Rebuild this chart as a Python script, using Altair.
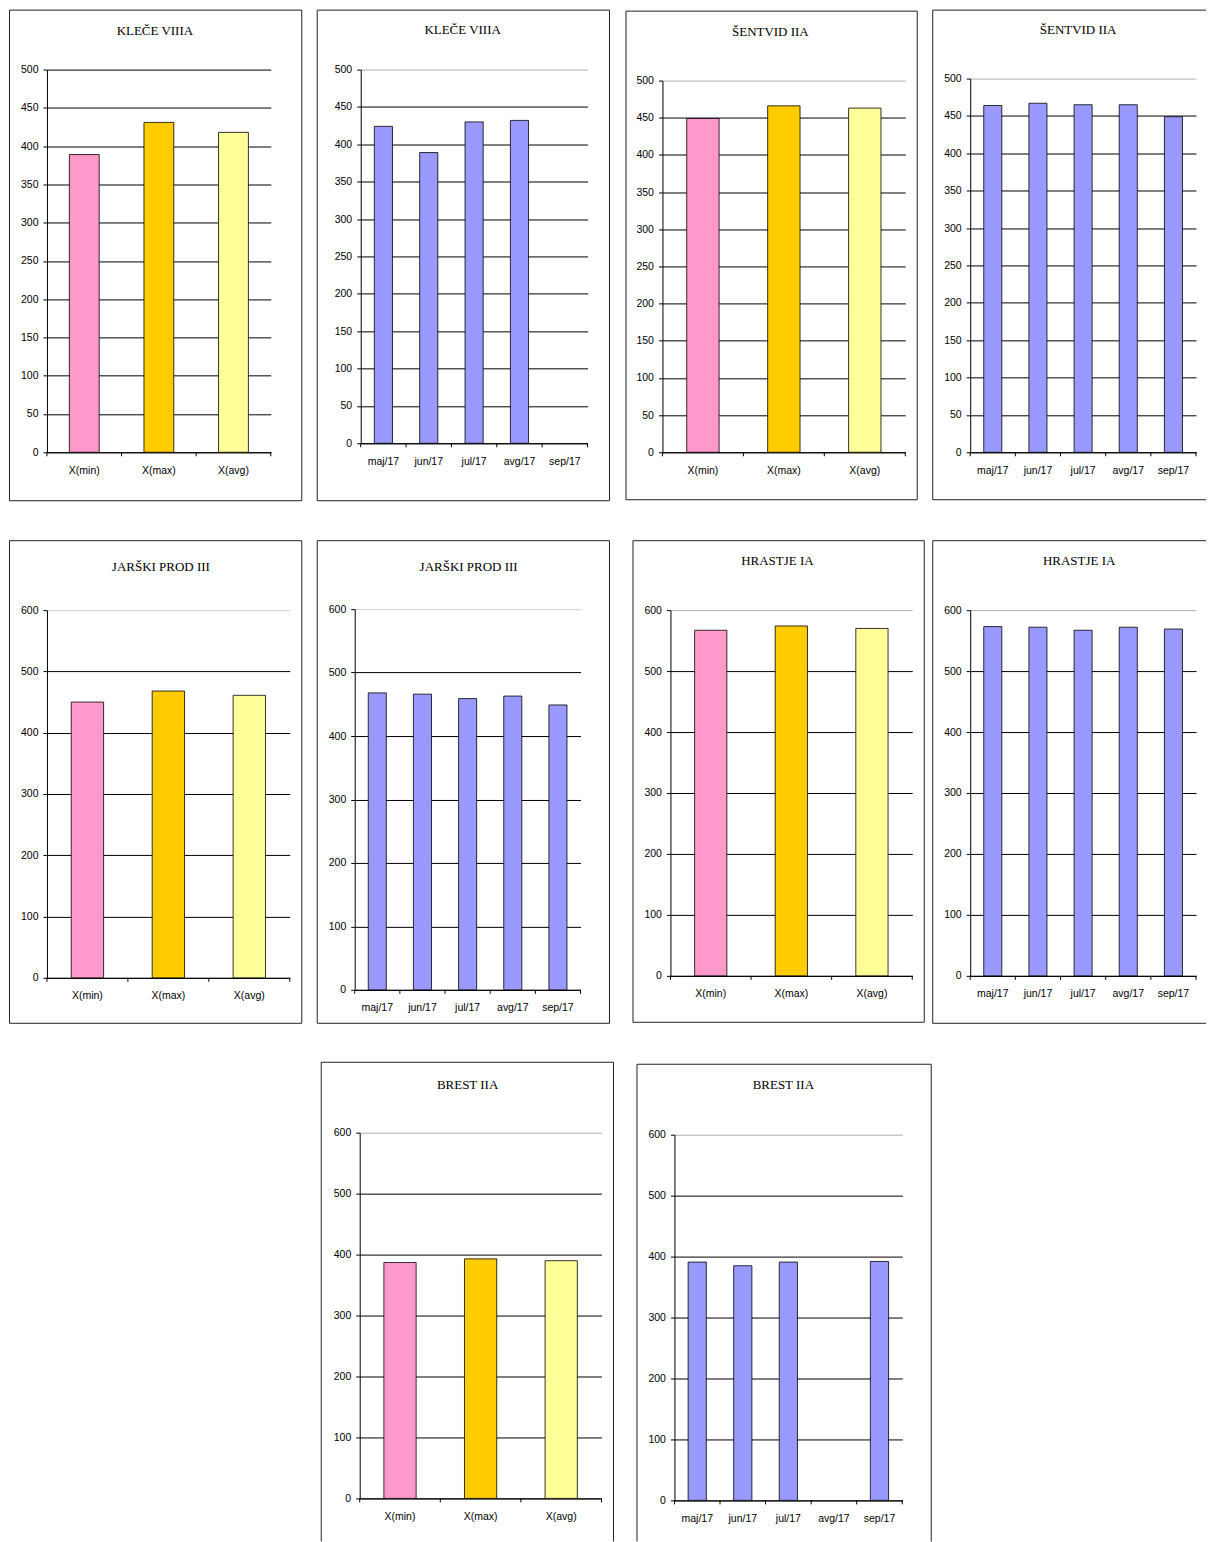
import altair as alt
import pandas as pd

# ---------------- data ----------------
STAT_CATS = ["X(min)", "X(max)", "X(avg)"]
MONTH_CATS = ["maj/17", "jun/17", "jul/17", "avg/17", "sep/17"]

klece_stats = [389, 431, 418]
klece_months = [424, 389, 430, 432, None]
sentvid_stats = [449, 466, 463]
sentvid_months = [464, 467, 465, 465, 449]
jarski_stats = [450, 468, 461]
jarski_months = [468, 466, 459, 463, 449]
hrastje_stats = [567, 574, 570]
hrastje_months = [573, 572, 567, 572, 569]
brest_stats = [387, 393, 390]
brest_months = [391, 385, 391, None, 392]

# ---------------- styles ----------------
STAT_COLORS = ["#FF99CC", "#FFCC00", "#FFFF99"]
MONTH_COLORS = ["#9999FF"] * 5
LABEL_FONT = "Liberation Sans Narrow, Arial Narrow, Liberation Sans, sans-serif"
TITLE_FONT = "Liberation Serif, Times New Roman, serif"

# layout (page px): plot (left, top, right, bottom), frame (left, top, right, bottom, sides drawn),
# cell (left, top, right, bottom), title centre
PANELS = [
    dict(title="KLEČE VIIIA", cats=STAT_CATS, vals=klece_stats, colors=STAT_COLORS, ymax=500, ystep=50, top="black",
         plot=(47, 69, 271, 452), frame=(9.5, 9.5, 302, 500.5, "tlrb"), cell=(8, 9, 313, 520), tpos=(155, 30)),
    dict(title="KLEČE VIIIA", cats=MONTH_CATS, vals=klece_months, colors=MONTH_COLORS, ymax=500, ystep=50, top="#b0b0b0",
         plot=(361, 69, 588, 443), frame=(317.5, 9.5, 610, 500.5, "tlrb"), cell=(313, 9, 621, 520), tpos=(463, 29)),
    dict(title="ŠENTVID IIA", cats=STAT_CATS, vals=sentvid_stats, colors=STAT_COLORS, ymax=500, ystep=50, top="#b0b0b0",
         plot=(663, 80, 906, 452), frame=(626.5, 10.5, 918, 499.5, "tlrb"), cell=(621, 9, 929, 520), tpos=(771, 31)),
    dict(title="ŠENTVID IIA", cats=MONTH_CATS, vals=sentvid_months, colors=MONTH_COLORS, ymax=500, ystep=50, top="#b0b0b0",
         plot=(971, 78, 1197, 452), frame=(933.5, 9.5, 1207, 499.5, "tlb"), cell=(929, 9, 1207, 520), tpos=(1079, 29)),

    dict(title="JARŠKI PROD III", cats=STAT_CATS, vals=jarski_stats, colors=STAT_COLORS, ymax=600, ystep=100, top="#d0d0d0",
         plot=(47, 610, 290, 978), frame=(9.5, 540.5, 302, 1023.5, "tlrb"), cell=(8, 521, 313, 1042), tpos=(161, 567)),
    dict(title="JARŠKI PROD III", cats=MONTH_CATS, vals=jarski_months, colors=MONTH_COLORS, ymax=600, ystep=100, top="#d0d0d0",
         plot=(355, 609, 581, 990), frame=(317.5, 540.5, 610, 1023.5, "tlrb"), cell=(313, 521, 621, 1042), tpos=(469, 567)),
    dict(title="HRASTJE IA", cats=STAT_CATS, vals=hrastje_stats, colors=STAT_COLORS, ymax=600, ystep=100, top="#b0b0b0",
         plot=(671, 610, 913, 976), frame=(633.5, 540.5, 925, 1022.5, "tlrb"), cell=(621, 521, 929, 1042), tpos=(778, 561)),
    dict(title="HRASTJE IA", cats=MONTH_CATS, vals=hrastje_months, colors=MONTH_COLORS, ymax=600, ystep=100, top="#b0b0b0",
         plot=(971, 610, 1197, 976), frame=(933.5, 540.5, 1207, 1023.5, "tlb"), cell=(929, 521, 1207, 1042), tpos=(1080, 561)),

    dict(title="BREST IIA", cats=STAT_CATS, vals=brest_stats, colors=STAT_COLORS, ymax=600, ystep=100, top="#b0b0b0",
         plot=(360, 1133, 602, 1499), frame=(321.5, 1062.5, 614, 1542, "tlr"), cell=(313, 1043, 625, 1542), tpos=(468, 1085)),
    dict(title="BREST IIA", cats=MONTH_CATS, vals=brest_months, colors=MONTH_COLORS, ymax=600, ystep=100, top="#b0b0b0",
         plot=(675, 1135, 903, 1501), frame=(637.5, 1064.5, 932, 1542, "tlr"), cell=(625, 1043, 940, 1542), tpos=(784, 1085)),
]

one = pd.DataFrame({"k": [0]})


def spacer(plot_xy, cell):
    """Invisible rectangle that fixes a panel's cell in the concat layout."""
    px, py = plot_xy
    cx0, cy0, cx1, cy1 = cell
    return alt.Chart(one).mark_rect(opacity=0).encode(
        x=alt.value(cx0 - px), x2=alt.value(cx1 - px), y=alt.value(cy0 - py), y2=alt.value(cy1 - py))


def anchor():
    """1px invisible element: puts the following panel's top edge (not its plot) on the row line."""
    return alt.layer(alt.Chart(one).mark_rect(opacity=0).encode(
        x=alt.value(0), x2=alt.value(1), y=alt.value(0), y2=alt.value(1))).properties(width=1, height=1)


def panel(p):
    px, py, pr, pb = p["plot"]
    W, H = pr - px, pb - py
    fx0, fy0, fx1, fy1, sides = p["frame"]
    tx, ty = p["tpos"]
    cats, ymax = p["cats"], p["ymax"]

    colour_of = dict(zip(cats, p["colors"]))
    data = pd.DataFrame({"cat": cats, "val": p["vals"]}).dropna()
    data["fillcol"] = data["cat"].map(colour_of)
    allcats = pd.DataFrame({"cat": cats})

    xscale = alt.Scale(domain=cats, paddingInner=0, paddingOuter=0)
    xaxis = alt.Axis(title=None, ticks=False, tickSize=0, labelAngle=0, labelPadding=13,
                     domainColor="black", grid=False)
    yaxis = alt.Axis(title=None, values=list(range(0, ymax + 1, p["ystep"])), grid=True,
                     gridColor={"condition": {"test": f"datum.value == {ymax}", "value": p["top"]},
                                "value": "black"},
                     gridWidth=1, tickSize=4, labelPadding=5, domainColor="black", tickColor="black")

    layers = [spacer((px, py), p["cell"])]
    # frame sides
    X0, X1, Y0, Y1 = fx0 - px, fx1 - px, fy0 - py, fy1 - py
    seg = {
        "t": dict(x=alt.value(X0), x2=alt.value(X1), y=alt.value(Y0)),
        "b": dict(x=alt.value(X0), x2=alt.value(X1), y=alt.value(Y1)),
        "l": dict(x=alt.value(X0), y=alt.value(Y0), y2=alt.value(Y1)),
        "r": dict(x=alt.value(X1), y=alt.value(Y0), y2=alt.value(Y1)),
    }
    for s in sides:
        layers.append(alt.Chart(one).mark_rule(color="#222222", strokeWidth=1).encode(**seg[s]))
    # panel title
    layers.append(alt.Chart(one).mark_text(font=TITLE_FONT, fontSize=13, color="black",
                                           align="center", baseline="middle").encode(
        x=alt.value(tx - px), y=alt.value(ty - py), text=alt.value(p["title"])))
    # category-boundary ticks on the x axis
    layers.append(alt.Chart(allcats).mark_rule(color="black", strokeWidth=1).encode(
        x=alt.X("cat:N", bandPosition=0, scale=xscale, axis=xaxis),
        y=alt.value(H), y2=alt.value(H + 4)))
    layers.append(alt.Chart(one).mark_rule(color="black", strokeWidth=1).encode(
        x=alt.value(W), y=alt.value(H), y2=alt.value(H + 4)))
    # bars
    layers.append(alt.Chart(data).mark_bar(width={"band": 0.4}, stroke="black", strokeWidth=0.8).encode(
        x=alt.X("cat:N", scale=xscale, axis=xaxis),
        y=alt.Y("val:Q", scale=alt.Scale(domain=[0, ymax], nice=False), axis=yaxis),
        fill=alt.Fill("fillcol:N", scale=None, legend=None),
    ))
    chart = alt.layer(*layers).properties(width=W, height=H)
    return alt.vconcat(anchor(), chart, spacing=0)


# empty first cell of the bottom row, anchored like the first panels of the rows above
blank = alt.layer(alt.Chart(one).mark_rect(opacity=0).encode(
    x=alt.value(8 - 47), x2=alt.value(313 - 47), y=alt.value(0), y2=alt.value(1))).properties(width=1, height=1)

rows = [
    alt.hconcat(*[panel(p) for p in PANELS[0:4]], spacing=0),
    alt.hconcat(*[panel(p) for p in PANELS[4:8]], spacing=0),
    alt.hconcat(blank, *[panel(p) for p in PANELS[8:10]], spacing=0),
]

chart = alt.vconcat(*rows, spacing=0).properties(padding=0).configure_view(
    stroke=None
).configure_axis(
    labelFont=LABEL_FONT, labelFontSize=10.5, labelColor="black"
)

chart.save("out.html", embed_options={"renderer": "svg", "actions": False})
